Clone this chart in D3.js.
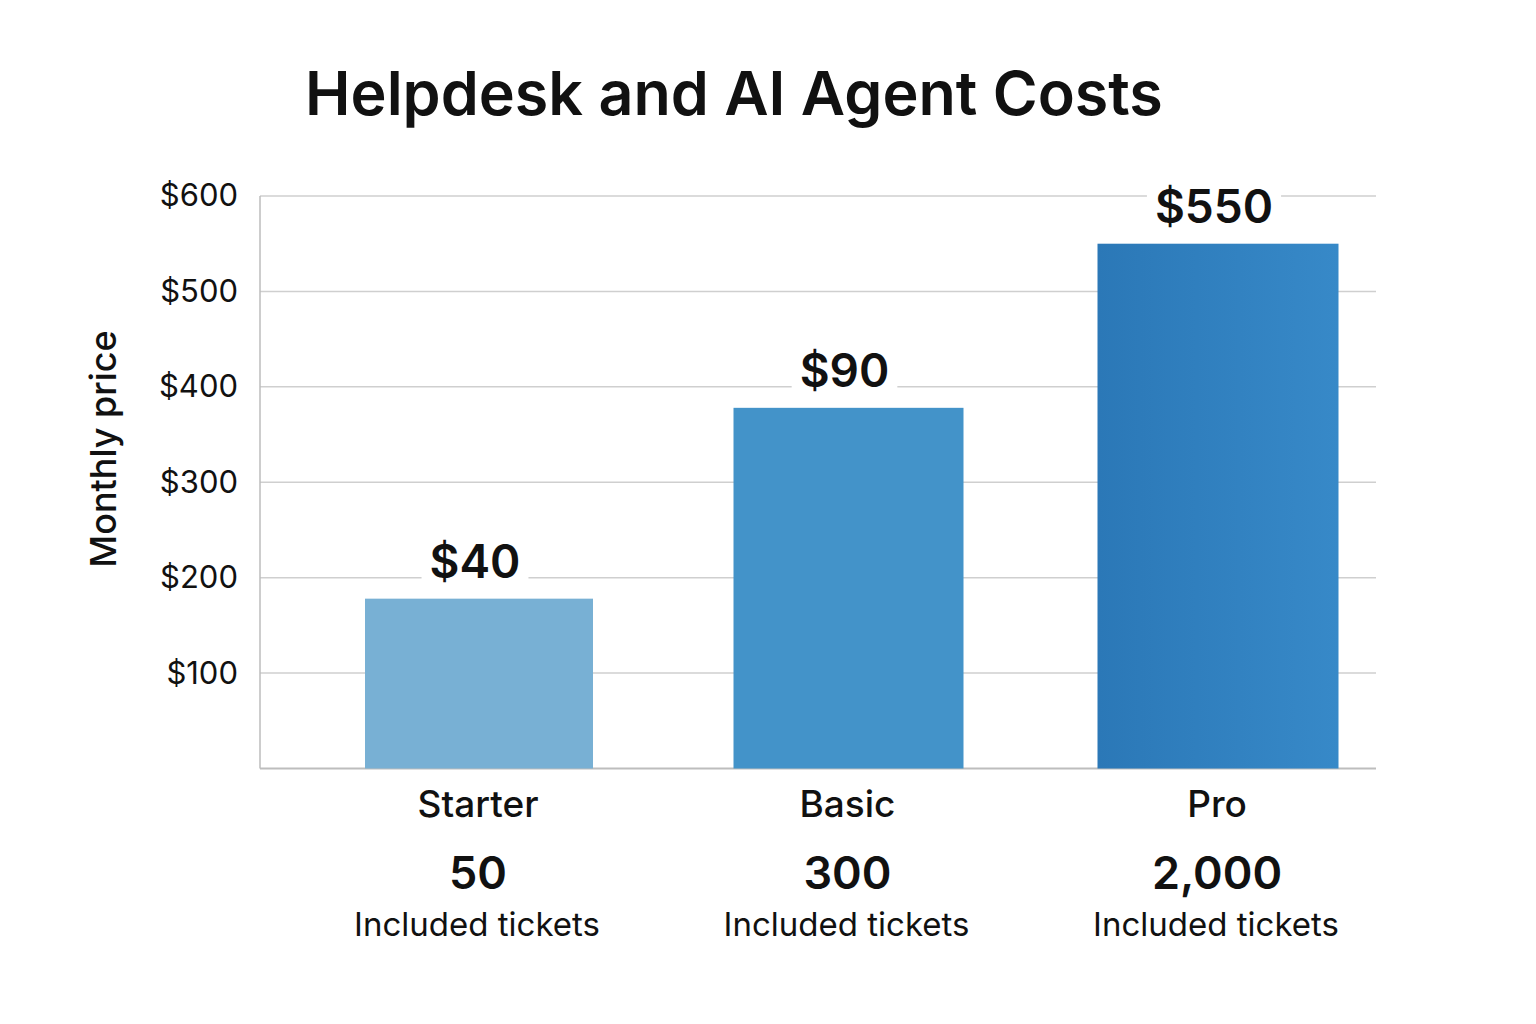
<!DOCTYPE html>
<html><head><meta charset="utf-8">
<script src="https://cdn.jsdelivr.net/npm/d3@7"></script>
<style>html,body{margin:0;padding:0;background:#fff;}svg{display:block;font-family:Inter,"Noto Sans",sans-serif;}</style>
</head><body>
<svg id="c" width="1536" height="1024"></svg>
<script>
const categories = ["Starter", "Basic", "Pro"];
const barValues = [178, 378, 550];
const priceLabels = ["$40", "$90", "$550"];
const ticketCounts = ["50", "300", "2,000"];
const ticketCaption = "Included tickets";
const yTicks = [100, 200, 300, 400, 500, 600];
const barColors = ["#78b0d4", "#4393c9", "url(#proGrad)"];

const svg = d3.select("#c");
const defs = svg.append("defs");
const g = defs.append("linearGradient").attr("id","proGrad").attr("x1","0").attr("x2","1").attr("y1","0").attr("y2","0");
g.append("stop").attr("offset","0").attr("stop-color","#2b78b7");
g.append("stop").attr("offset","1").attr("stop-color","#3789c8");

const plotL = 260, plotR = 1376, plotT = 196, plotB = 768.5;
const y = d3.scaleLinear().domain([0, 600]).range([plotB, plotT]);
const x = d3.scalePoint().domain(categories).range([479, 1218]);
const barW = [228, 230, 241];

svg.append("text").attr("x", 734).attr("y", 115).attr("text-anchor","middle")
  .attr("font-size", 61).attr("font-weight", 600).attr("fill","#111").text("Helpdesk and AI Agent Costs");

// grid
svg.append("g").selectAll("line").data(yTicks).join("line")
  .attr("x1", plotL).attr("x2", plotR).attr("y1", d=>y(d)).attr("y2", d=>y(d))
  .attr("stroke","#cfcfcf").attr("stroke-width",1.5);
// axes lines
svg.append("line").attr("x1",plotL).attr("x2",plotL).attr("y1",plotT).attr("y2",plotB).attr("stroke","#bdbdbd").attr("stroke-width",1.5);
svg.append("line").attr("x1",plotL).attr("x2",plotR).attr("y1",plotB).attr("y2",plotB).attr("stroke","#bdbdbd").attr("stroke-width",2);

// y axis
const yAxis = d3.axisLeft(y).tickValues(yTicks).tickFormat(d=>"$"+d).tickSize(0).tickPadding(22);
const ya = svg.append("g").attr("transform",`translate(${plotL},0)`).call(yAxis);
ya.select(".domain").remove();
ya.selectAll("text").attr("font-size",31).attr("fill","#111").attr("font-family","Inter,'Noto Sans',sans-serif");

svg.append("text").attr("transform","translate(116,449) rotate(-90)").attr("text-anchor","middle")
  .attr("font-size",36).attr("font-weight",500).attr("fill","#111").text("Monthly price");

// bars
svg.append("g").selectAll("rect").data(categories).join("rect")
  .attr("x",(d,i)=>x(d)-barW[i]/2).attr("width",(d,i)=>barW[i])
  .attr("y",(d,i)=>y(barValues[i])).attr("height",(d,i)=>plotB - y(barValues[i]))
  .attr("fill",(d,i)=>barColors[i]);

// value labels with white backgrounds
const lab = svg.append("g").selectAll("g").data(categories).join("g");
lab.each(function(d,i){
  const gg = d3.select(this);
  const bg = gg.append("rect").attr("fill","#fff");
  const t = gg.append("text").attr("x",x(d)-4).attr("y",y(barValues[i])-21).attr("text-anchor","middle")
    .attr("font-size",46).attr("font-weight",600).attr("fill","#111").text(priceLabels[i]);
  const bb = t.node().getBBox();
  bg.attr("x",bb.x-8).attr("y",bb.y).attr("width",bb.width+16).attr("height",bb.height);
});

// category labels
const cl = svg.append("g");
cl.selectAll("text.cat").data(categories).join("text").attr("class","cat")
  .attr("x",d=>x(d)-1).attr("y",817).attr("text-anchor","middle").attr("font-size",37).attr("font-weight",500).attr("fill","#111").text(d=>d);
cl.selectAll("text.num").data(categories).join("text").attr("class","num")
  .attr("x",d=>x(d)-1).attr("y",889).attr("text-anchor","middle").attr("font-size",45).attr("font-weight",600).attr("fill","#111").text((d,i)=>ticketCounts[i]);
cl.selectAll("text.cap").data(categories).join("text").attr("class","cap")
  .attr("x",d=>x(d)-2).attr("y",936).attr("text-anchor","middle").attr("font-size",33).attr("fill","#111").text(ticketCaption);
</script>
</body></html>
